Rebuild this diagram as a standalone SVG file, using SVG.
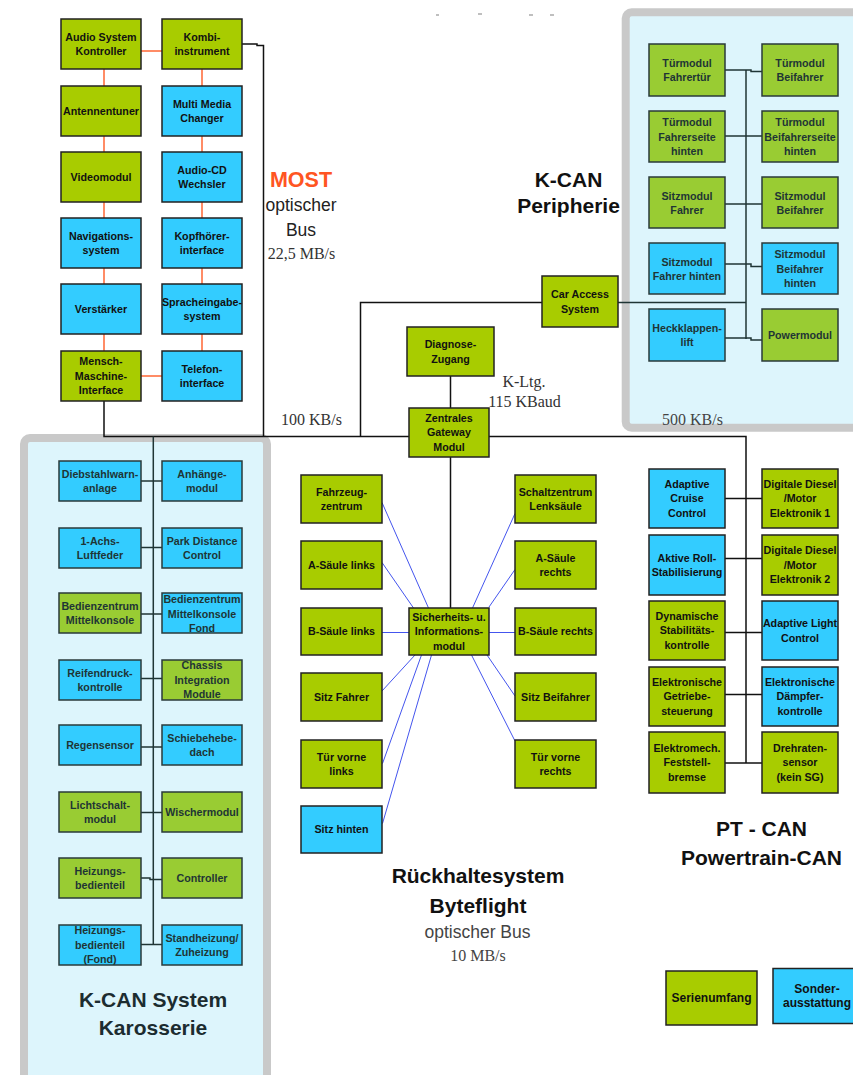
<svg xmlns="http://www.w3.org/2000/svg" width="853" height="1075" viewBox="0 0 853 1075">
  <style>
    .n { stroke: #222; stroke-width: 1.5; }
    .pn { stroke: #2a3a3a; stroke-width: 1.5; }
    .g1 { fill: #A8CC00; }
    .g2 { fill: #99CC33; }
    .b { fill: #33CCFF; }
    text { font-family: "Liberation Sans", Arial, sans-serif; }
    .t { font-weight: bold; font-size: 10.7px; text-anchor: middle; fill: #111; }
    .pt { font-weight: bold; font-size: 10.7px; text-anchor: middle; fill: #1f3535; }
    .lg { font-weight: bold; font-size: 12px; text-anchor: middle; fill: #111; }
    .title { font-weight: bold; font-size: 21px; text-anchor: middle; fill: #111; }
    .sub { font-size: 17.5px; text-anchor: middle; fill: #222; }
    .rate { font-family: "Liberation Serif", "Times New Roman", serif; font-size: 16px; fill: #333; }
    .most { stroke: #FF6633; stroke-width: 1.5; fill: none; }
    .bus { stroke: #111; stroke-width: 1.5; fill: none; }
    .pbus { stroke: #1f3535; stroke-width: 1.5; fill: none; }
    .bf { stroke: #4455EE; stroke-width: 1; fill: none; }
    .panel { fill: #DDF5FC; stroke: #C9C9C9; stroke-width: 8; }
  </style>
  <defs>
    <clipPath id="clipFond"><rect x="162" y="593" width="80" height="40"/></clipPath>
    <clipPath id="clipChassis"><rect x="162" y="660" width="80" height="40"/></clipPath>
    <clipPath id="clipHeizFond"><rect x="59" y="925" width="82" height="40"/></clipPath>
  </defs>

  <rect width="853" height="1075" fill="#ffffff"/>

  <!-- faint remnants at the top edge -->
  <g stroke="#aaa" stroke-width="1.5">
    <line x1="436" y1="15" x2="439" y2="15"/>
    <line x1="478" y1="14" x2="482" y2="14"/>
    <line x1="529" y1="15" x2="533" y2="15"/>
    <line x1="550" y1="15" x2="554" y2="15"/>
  </g>

  <!-- background panels -->
  <g id="panels">
    <rect class="panel" x="625.7" y="12.3" width="300" height="415.4" rx="6"/>
    <rect class="panel" x="24" y="438" width="243" height="700" rx="6"/>
  </g>

  <!-- connectors -->
  <g id="connectors">
    <!-- MOST ring (orange) -->
    <line class="most" x1="104" y1="69" x2="104" y2="351"/>
    <line class="most" x1="202" y1="69" x2="202" y2="351"/>
    <line class="most" x1="141" y1="51" x2="162" y2="51"/>
    <line class="most" x1="141" y1="376" x2="162" y2="376"/>
    <!-- main K-bus -->
    <path class="bus" d="M242,44 H257 V45.5 H263.5 V436.5"/>
    <path class="bus" d="M104,401 V436.5 H746 V763"/>
    <path class="bus" d="M360.5,436.5 V302.5 H542"/>
    <line class="bus" x1="450.5" y1="376" x2="450.5" y2="408"/>
    <line class="bus" x1="450.5" y1="457" x2="450.5" y2="608"/>
    <!-- K-CAN Peripherie -->
    <line class="pbus" x1="746" y1="70" x2="746" y2="339"/>
    <path class="pbus" d="M725,70 H751 V71.5 H762"/>
    <line class="pbus" x1="725" y1="136" x2="762" y2="136"/>
    <line class="pbus" x1="725" y1="204" x2="762" y2="204"/>
    <path class="pbus" d="M725,264 H751 V266.5 H762"/>
    <line class="pbus" x1="618" y1="302.5" x2="746" y2="302.5"/>
    <path class="pbus" d="M725,338 H751 V340 H762"/>
    <!-- K-CAN System -->
    <line class="pbus" x1="153.3" y1="436.5" x2="153.3" y2="945"/>
    <line class="pbus" x1="141" y1="481" x2="162" y2="481"/>
    <line class="pbus" x1="141" y1="547.5" x2="162" y2="547.5"/>
    <line class="pbus" x1="141" y1="614" x2="162" y2="614"/>
    <line class="pbus" x1="141" y1="678.5" x2="162" y2="678.5"/>
    <line class="pbus" x1="141" y1="747" x2="162" y2="747"/>
    <line class="pbus" x1="141" y1="812.5" x2="162" y2="812.5"/>
    <path class="pbus" d="M141,878 H150 V879.5 H162"/>
    <line class="pbus" x1="141" y1="944.5" x2="162" y2="944.5"/>
    <!-- PT-CAN -->
    <line class="bus" x1="725" y1="498.5" x2="762" y2="498.5"/>
    <line class="bus" x1="725" y1="558.5" x2="762" y2="558.5"/>
    <line class="bus" x1="725" y1="632.5" x2="762" y2="632.5"/>
    <line class="bus" x1="725" y1="694.5" x2="762" y2="694.5"/>
    <line class="bus" x1="725" y1="763" x2="762" y2="763"/>
    <!-- Byteflight star (blue) -->
    <line class="bf" x1="382" y1="502.5" x2="428.5" y2="608"/>
    <line class="bf" x1="382" y1="562.5" x2="413.5" y2="608"/>
    <line class="bf" x1="382" y1="632.5" x2="409" y2="632.5"/>
    <line class="bf" x1="515" y1="513.5" x2="472.5" y2="608"/>
    <line class="bf" x1="515" y1="569.5" x2="489" y2="607"/>
    <line class="bf" x1="489" y1="632.5" x2="515" y2="632.5"/>
    <line class="bf" x1="415" y1="655" x2="382" y2="691"/>
    <line class="bf" x1="421.5" y1="655" x2="382.5" y2="763.5"/>
    <line class="bf" x1="431.5" y1="655" x2="382.5" y2="823.5"/>
    <line class="bf" x1="487" y1="655" x2="515" y2="696"/>
    <line class="bf" x1="471.5" y1="655" x2="515" y2="741"/>
  </g>

  <!-- MOST nodes -->
  <g id="audio-system"><rect class="n g1" x="61" y="19" width="80" height="50"/><text class="t"><tspan x="101" y="40.6">Audio System</tspan><tspan x="101" y="55.1">Kontroller</tspan></text></g>
  <g id="kombi"><rect class="n g1" x="162" y="19" width="80" height="50"/><text class="t"><tspan x="202" y="40.6">Kombi-</tspan><tspan x="202" y="55.1">instrument</tspan></text></g>
  <g id="antennentuner"><rect class="n g1" x="61" y="86" width="80" height="50"/><text class="t" x="101" y="114.9">Antennentuner</text></g>
  <g id="multimedia"><rect class="n b" x="162" y="86" width="80" height="50"/><text class="t"><tspan x="202" y="107.6">Multi Media</tspan><tspan x="202" y="122.1">Changer</tspan></text></g>
  <g id="videomodul"><rect class="n g1" x="61" y="152" width="80" height="50"/><text class="t" x="101" y="180.9">Videomodul</text></g>
  <g id="audiocd"><rect class="n b" x="162" y="152" width="80" height="50"/><text class="t"><tspan x="202" y="173.6">Audio-CD</tspan><tspan x="202" y="188.1">Wechsler</tspan></text></g>
  <g id="navigation"><rect class="n b" x="61" y="218" width="80" height="50"/><text class="t"><tspan x="101" y="239.6">Navigations-</tspan><tspan x="101" y="254.1">system</tspan></text></g>
  <g id="kopfhoerer"><rect class="n b" x="162" y="218" width="80" height="50"/><text class="t"><tspan x="202" y="239.6">Kopfhörer-</tspan><tspan x="202" y="254.1">interface</tspan></text></g>
  <g id="verstaerker"><rect class="n b" x="61" y="284" width="80" height="50"/><text class="t" x="101" y="312.9">Verstärker</text></g>
  <g id="sprache"><rect class="n b" x="162" y="284" width="80" height="50"/><text class="t"><tspan x="202" y="305.6">Spracheingabe-</tspan><tspan x="202" y="320.1">system</tspan></text></g>
  <g id="mmi"><rect class="n g1" x="61" y="351" width="80" height="50"/><text class="t"><tspan x="101" y="365.4">Mensch-</tspan><tspan x="101" y="379.9">Maschine-</tspan><tspan x="101" y="394.4">Interface</tspan></text></g>
  <g id="telefon"><rect class="n b" x="162" y="351" width="80" height="50"/><text class="t"><tspan x="202" y="372.6">Telefon-</tspan><tspan x="202" y="387.1">interface</tspan></text></g>

  <!-- K-CAN Peripherie nodes -->
  <g id="tuer-fahrer"><rect class="pn g2" x="649" y="44" width="76" height="52"/><text class="pt"><tspan x="687" y="66.6">Türmodul</tspan><tspan x="687" y="81.1">Fahrertür</tspan></text></g>
  <g id="tuer-beifahrer"><rect class="pn g2" x="762" y="44" width="76" height="52"/><text class="pt"><tspan x="800" y="66.6">Türmodul</tspan><tspan x="800" y="81.1">Beifahrer</tspan></text></g>
  <g id="tuer-fahrer-hinten"><rect class="pn g2" x="649" y="111" width="76" height="51"/><text class="pt"><tspan x="687" y="126.4">Türmodul</tspan><tspan x="687" y="140.9">Fahrerseite</tspan><tspan x="687" y="155.4">hinten</tspan></text></g>
  <g id="tuer-beifahrer-hinten"><rect class="pn g2" x="762" y="111" width="76" height="51"/><text class="pt"><tspan x="800" y="126.4">Türmodul</tspan><tspan x="800" y="140.9">Beifahrerseite</tspan><tspan x="800" y="155.4">hinten</tspan></text></g>
  <g id="sitz-fahrer"><rect class="pn g2" x="649" y="177" width="76" height="51"/><text class="pt"><tspan x="687" y="199.6">Sitzmodul</tspan><tspan x="687" y="214.1">Fahrer</tspan></text></g>
  <g id="sitz-beifahrer"><rect class="pn g2" x="762" y="177" width="76" height="51"/><text class="pt"><tspan x="800" y="199.6">Sitzmodul</tspan><tspan x="800" y="214.1">Beifahrer</tspan></text></g>
  <g id="sitz-fahrer-hinten"><rect class="pn b" x="649" y="243" width="76" height="51"/><text class="pt"><tspan x="687" y="265.6">Sitzmodul</tspan><tspan x="687" y="280.1">Fahrer hinten</tspan></text></g>
  <g id="sitz-beifahrer-hinten"><rect class="pn b" x="762" y="243" width="76" height="51"/><text class="pt"><tspan x="800" y="258.4">Sitzmodul</tspan><tspan x="800" y="272.9">Beifahrer</tspan><tspan x="800" y="287.4">hinten</tspan></text></g>
  <g id="heckklappe"><rect class="pn b" x="649" y="309" width="76" height="52"/><text class="pt"><tspan x="687" y="331.6">Heckklappen-</tspan><tspan x="687" y="346.1">lift</tspan></text></g>
  <g id="powermodul"><rect class="pn g2" x="762" y="309" width="76" height="52"/><text class="pt" x="800" y="338.9">Powermodul</text></g>

  <!-- central nodes -->
  <g id="car-access"><rect class="n g1" x="542" y="276" width="76" height="51"/><text class="t"><tspan x="580" y="298.1">Car Access</tspan><tspan x="580" y="312.6">System</tspan></text></g>
  <g id="diagnose"><rect class="n g1" x="407" y="327" width="87" height="49"/><text class="t"><tspan x="450.5" y="348.1">Diagnose-</tspan><tspan x="450.5" y="362.6">Zugang</tspan></text></g>
  <g id="gateway"><rect class="n g1" x="409" y="408" width="80" height="49"/><text class="t"><tspan x="449" y="421.9">Zentrales</tspan><tspan x="449" y="436.4">Gateway</tspan><tspan x="449" y="450.9">Modul</tspan></text></g>

  <!-- Byteflight nodes -->
  <g id="fahrzeugzentrum"><rect class="n g1" x="301" y="475" width="81" height="48"/><text class="t"><tspan x="341.5" y="495.6">Fahrzeug-</tspan><tspan x="341.5" y="510.1">zentrum</tspan></text></g>
  <g id="schaltzentrum"><rect class="n g1" x="515" y="475" width="81" height="48"/><text class="t"><tspan x="555.5" y="495.6">Schaltzentrum</tspan><tspan x="555.5" y="510.1">Lenksäule</tspan></text></g>
  <g id="a-saeule-links"><rect class="n g1" x="301" y="541" width="81" height="48"/><text class="t" x="341.5" y="568.9">A-Säule links</text></g>
  <g id="a-saeule-rechts"><rect class="n g1" x="515" y="541" width="81" height="48"/><text class="t"><tspan x="555.5" y="561.6">A-Säule</tspan><tspan x="555.5" y="576.1">rechts</tspan></text></g>
  <g id="b-saeule-links"><rect class="n g1" x="301" y="608" width="81" height="47"/><text class="t" x="341.5" y="635.4">B-Säule links</text></g>
  <g id="sim"><rect class="n g1" x="409" y="608" width="80" height="47"/><text class="t"><tspan x="449" y="620.9">Sicherheits- u.</tspan><tspan x="449" y="635.4">Informations-</tspan><tspan x="449" y="649.9">modul</tspan></text></g>
  <g id="b-saeule-rechts"><rect class="n g1" x="515" y="608" width="81" height="47"/><text class="t" x="555.5" y="635.4">B-Säule rechts</text></g>
  <g id="sitz-fahrer-bf"><rect class="n g1" x="301" y="673" width="81" height="48"/><text class="t" x="341.5" y="700.9">Sitz Fahrer</text></g>
  <g id="sitz-beifahrer-bf"><rect class="n g1" x="515" y="673" width="81" height="48"/><text class="t" x="555.5" y="700.9">Sitz Beifahrer</text></g>
  <g id="tuer-vorne-links"><rect class="n g1" x="301" y="740" width="81" height="48"/><text class="t"><tspan x="341.5" y="760.6">Tür vorne</tspan><tspan x="341.5" y="775.1">links</tspan></text></g>
  <g id="tuer-vorne-rechts"><rect class="n g1" x="515" y="740" width="81" height="48"/><text class="t"><tspan x="555.5" y="760.6">Tür vorne</tspan><tspan x="555.5" y="775.1">rechts</tspan></text></g>
  <g id="sitz-hinten"><rect class="n b" x="301" y="806" width="81" height="47"/><text class="t" x="341.5" y="833.4">Sitz hinten</text></g>

  <!-- PT-CAN nodes -->
  <g id="acc"><rect class="n b" x="649" y="469" width="76" height="59"/><text class="t"><tspan x="687" y="487.9">Adaptive</tspan><tspan x="687" y="502.4">Cruise</tspan><tspan x="687" y="516.9">Control</tspan></text></g>
  <g id="dde1"><rect class="n g1" x="762" y="469" width="76" height="59"/><text class="t"><tspan x="800" y="487.9">Digitale Diesel</tspan><tspan x="800" y="502.4">/Motor</tspan><tspan x="800" y="516.9">Elektronik 1</tspan></text></g>
  <g id="ars"><rect class="n b" x="649" y="535" width="76" height="60"/><text class="t"><tspan x="687" y="561.6">Aktive Roll-</tspan><tspan x="687" y="576.1">Stabilisierung</tspan></text></g>
  <g id="dde2"><rect class="n g1" x="762" y="535" width="76" height="60"/><text class="t"><tspan x="800" y="554.4">Digitale Diesel</tspan><tspan x="800" y="568.9">/Motor</tspan><tspan x="800" y="583.4">Elektronik 2</tspan></text></g>
  <g id="dsc"><rect class="n g1" x="649" y="601" width="76" height="59"/><text class="t"><tspan x="687" y="619.9">Dynamische</tspan><tspan x="687" y="634.4">Stabilitäts-</tspan><tspan x="687" y="648.9">kontrolle</tspan></text></g>
  <g id="alc"><rect class="n b" x="762" y="601" width="76" height="59"/><text class="t"><tspan x="800" y="627.1">Adaptive Light</tspan><tspan x="800" y="641.6">Control</tspan></text></g>
  <g id="egs"><rect class="n g1" x="649" y="667" width="76" height="59"/><text class="t"><tspan x="687" y="685.9">Elektronische</tspan><tspan x="687" y="700.4">Getriebe-</tspan><tspan x="687" y="714.9">steuerung</tspan></text></g>
  <g id="edc"><rect class="n b" x="762" y="667" width="76" height="59"/><text class="t"><tspan x="800" y="685.9">Elektronische</tspan><tspan x="800" y="700.4">Dämpfer-</tspan><tspan x="800" y="714.9">kontrolle</tspan></text></g>
  <g id="emf"><rect class="n g1" x="649" y="732" width="76" height="61"/><text class="t"><tspan x="687" y="751.9">Elektromech.</tspan><tspan x="687" y="766.4">Feststell-</tspan><tspan x="687" y="780.9">bremse</tspan></text></g>
  <g id="drehraten"><rect class="n g1" x="762" y="732" width="76" height="61"/><text class="t"><tspan x="800" y="751.9">Drehraten-</tspan><tspan x="800" y="766.4">sensor</tspan><tspan x="800" y="780.9">(kein SG)</tspan></text></g>

  <!-- K-CAN System nodes -->
  <g id="dwa"><rect class="pn b" x="59" y="461" width="82" height="40"/><text class="pt"><tspan x="100" y="477.6">Diebstahlwarn-</tspan><tspan x="100" y="492.1">anlage</tspan></text></g>
  <g id="anhaenger"><rect class="pn b" x="162" y="461" width="80" height="40"/><text class="pt"><tspan x="202" y="477.6">Anhänge-</tspan><tspan x="202" y="492.1">modul</tspan></text></g>
  <g id="luftfeder"><rect class="pn b" x="59" y="528" width="82" height="40"/><text class="pt"><tspan x="100" y="544.6">1-Achs-</tspan><tspan x="100" y="559.1">Luftfeder</tspan></text></g>
  <g id="pdc"><rect class="pn b" x="162" y="528" width="80" height="40"/><text class="pt"><tspan x="202" y="544.6">Park Distance</tspan><tspan x="202" y="559.1">Control</tspan></text></g>
  <g id="bz-mitte"><rect class="pn g2" x="59" y="593" width="82" height="40"/><text class="pt"><tspan x="100" y="609.6">Bedienzentrum</tspan><tspan x="100" y="624.1">Mittelkonsole</tspan></text></g>
  <g id="bz-fond"><rect class="b" x="162" y="593" width="80" height="40"/><text class="pt" clip-path="url(#clipFond)"><tspan x="202" y="603.4">Bedienzentrum</tspan><tspan x="202" y="617.9">Mittelkonsole</tspan><tspan x="202" y="632.4">Fond</tspan></text><rect class="pn" fill="none" x="162" y="593" width="80" height="40"/></g>
  <g id="rdc"><rect class="pn b" x="59" y="660" width="82" height="40"/><text class="pt"><tspan x="100" y="676.6">Reifendruck-</tspan><tspan x="100" y="691.1">kontrolle</tspan></text></g>
  <g id="chassis"><rect class="g2" x="162" y="660" width="80" height="40"/><text class="pt" clip-path="url(#clipChassis)"><tspan x="202" y="669.4">Chassis</tspan><tspan x="202" y="683.9">Integration</tspan><tspan x="202" y="698.4">Module</tspan></text><rect class="pn" fill="none" x="162" y="660" width="80" height="40"/></g>
  <g id="regensensor"><rect class="pn b" x="59" y="725" width="82" height="40"/><text class="pt" x="100" y="748.9">Regensensor</text></g>
  <g id="schiebedach"><rect class="pn b" x="162" y="725" width="80" height="40"/><text class="pt"><tspan x="202" y="741.6">Schiebehebe-</tspan><tspan x="202" y="756.1">dach</tspan></text></g>
  <g id="lichtschalt"><rect class="pn g2" x="59" y="792" width="82" height="40"/><text class="pt"><tspan x="100" y="808.6">Lichtschalt-</tspan><tspan x="100" y="823.1">modul</tspan></text></g>
  <g id="wischer"><rect class="pn g2" x="162" y="792" width="80" height="40"/><text class="pt" x="202" y="815.9">Wischermodul</text></g>
  <g id="heizung"><rect class="pn g2" x="59" y="858" width="82" height="40"/><text class="pt"><tspan x="100" y="874.6">Heizungs-</tspan><tspan x="100" y="889.1">bedienteil</tspan></text></g>
  <g id="controller"><rect class="pn g2" x="162" y="858" width="80" height="40"/><text class="pt" x="202" y="881.9">Controller</text></g>
  <g id="heizung-fond"><rect class="b" x="59" y="925" width="82" height="40"/><text class="pt" clip-path="url(#clipHeizFond)"><tspan x="100" y="934.4">Heizungs-</tspan><tspan x="100" y="948.9">bedienteil</tspan><tspan x="100" y="963.4">(Fond)</tspan></text><rect class="pn" fill="none" x="59" y="925" width="82" height="40"/></g>
  <g id="standheizung"><rect class="pn b" x="162" y="925" width="80" height="40"/><text class="pt"><tspan x="202" y="941.6">Standheizung/</tspan><tspan x="202" y="956.1">Zuheizung</tspan></text></g>

  <!-- legend -->
  <g id="legend-serie"><rect class="n g1" x="666" y="971" width="91" height="54"/><text class="lg" x="711.5" y="1002">Serienumfang</text></g>
  <g id="legend-sonder"><rect class="n b" x="773" y="968.5" width="90" height="55"/><text class="lg"><tspan x="817" y="992.5">Sonder-</tspan><tspan x="817" y="1006.5">ausstattung</tspan></text></g>

  <!-- bus labels -->
  <g id="labels">
    <text x="301" y="187" style="font-weight:bold;font-size:21.5px;text-anchor:middle;fill:#FF5522">MOST</text>
    <text class="sub" x="301" y="211">optischer</text>
    <text class="sub" x="301" y="236">Bus</text>
    <text class="rate" x="301.5" y="259" text-anchor="middle">22,5 MB/s</text>
    <text class="rate" x="281" y="425">100 KB/s</text>
    <text class="rate" x="524" y="387" text-anchor="middle">K-Ltg.</text>
    <text class="rate" x="524.5" y="407" text-anchor="middle">115 KBaud</text>
    <text class="title" x="568.5" y="187">K-CAN</text>
    <text class="title" x="568.5" y="213">Peripherie</text>
    <text class="rate" x="662" y="425" style="fill:#444">500 KB/s</text>
    <text class="title" x="153" y="1007" style="fill:#1c2c30">K-CAN System</text>
    <text class="title" x="153" y="1035" style="fill:#1c2c30">Karosserie</text>
    <text class="title" x="478" y="883">Rückhaltesystem</text>
    <text class="title" x="478" y="912.5">Byteflight</text>
    <text class="sub" x="477.5" y="938" style="fill:#444">optischer Bus</text>
    <text class="rate" x="478" y="960.5" text-anchor="middle" style="fill:#444">10 MB/s</text>
    <text class="title" x="761.5" y="835.5">PT - CAN</text>
    <text class="title" x="761.5" y="865">Powertrain-CAN</text>
  </g>
</svg>
